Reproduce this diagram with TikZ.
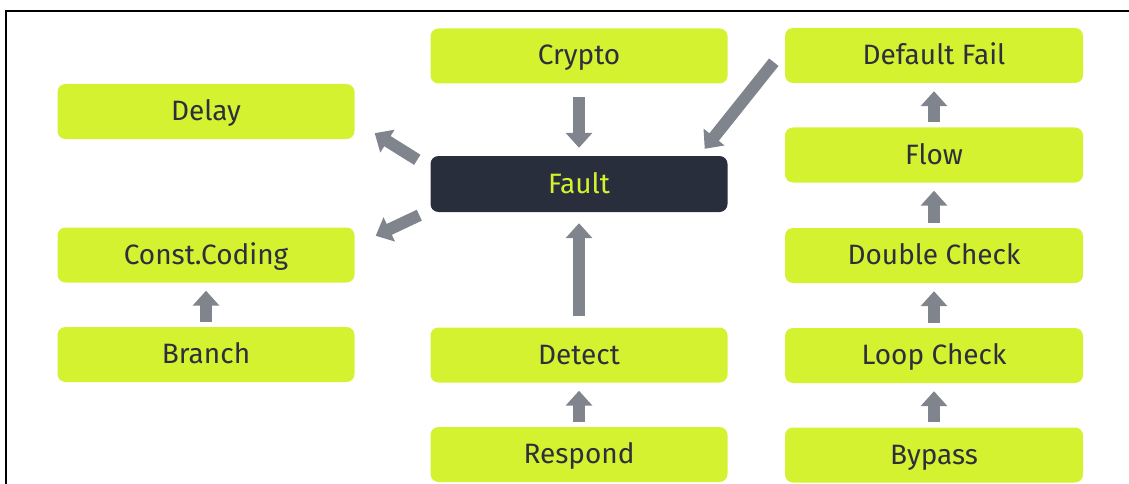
\documentclass[tikz,border=0pt]{standalone}
\usepackage{fontspec}
\setmainfont{Fira Sans}
\usetikzlibrary{arrows.meta,calc}
\definecolor{lime}{RGB}{212,242,48}
\definecolor{darkbox}{RGB}{41,46,61}
\definecolor{arrgray}{RGB}{128,132,140}
\definecolor{txtdark}{RGB}{45,48,60}
\tikzset{
  box/.style={fill=lime, text=txtdark, rounded corners=8pt, minimum width=297pt, minimum height=55pt, inner sep=0pt, text height=19pt, text depth=1pt, font=\fontsize{28}{32}\selectfont},
  faultbox/.style={box, fill=darkbox, text=lime, minimum height=56pt},
  arr/.style={draw=arrgray, line width=12pt, -{Triangle[width=26pt,length=15pt]}},
  small/.style={arr, shorten <=5pt, shorten >=8pt}
}
\begin{document}
\begin{tikzpicture}[x=1pt,y=-1pt]
\useasboundingbox (0,0) rectangle (1129,484);
\draw[line width=1.5pt] (6,484) -- (6,11) -- (1129,11);
% left column
\node[box] (delay) at (206,111.5) {Delay};
\node[box] (cc) at (206,255) {Const.Coding};
\node[box] (branch) at (206,354.5) {Branch};
% middle column
\node[box] (crypto) at (579,56) {Crypto};
\node[faultbox] (fault) at (579,184) {Fault};
\node[box] (detect) at (579,355) {Detect};
\node[box] (respond) at (579,454.5) {Respond};
% right column
\node[box, minimum width=298pt] (dfail) at (934,55.5) {Default Fail};
\node[box, minimum width=298pt] (flow) at (934,155) {Flow};
\node[box, minimum width=298pt] (dcheck) at (934,255.5) {Double Check};
\node[box, minimum width=298pt] (loop) at (934,355.5) {Loop Check};
\node[box, minimum width=298pt] (bypass) at (934,455) {Bypass};
% arrows
\draw[arr, shorten <=13.5pt, shorten >=8pt] (crypto) -- (fault);
\draw[arr, shorten <=11pt, shorten >=11pt] (detect) -- (fault);
\draw[small] (branch) -- (cc);
\draw[small] (respond) -- (detect);
\draw[small] (bypass) -- (loop);
\draw[small] (loop) -- (dcheck);
\draw[small] (dcheck) -- (flow);
\draw[small] (flow) -- (dfail);
\draw[arr] ($(fault.north west)+(-13,4)$) -- ($(delay.south east)+(20,-6)$);
\draw[arr] ($(fault.south west)+(-11,3)$) -- ($(cc.north east)+(21,8.5)$);
\draw[arr] ($(dfail.south west)+(-11,-21)$) -- ($(fault.north east)+(-23,-7)$);
\end{tikzpicture}
\end{document}
